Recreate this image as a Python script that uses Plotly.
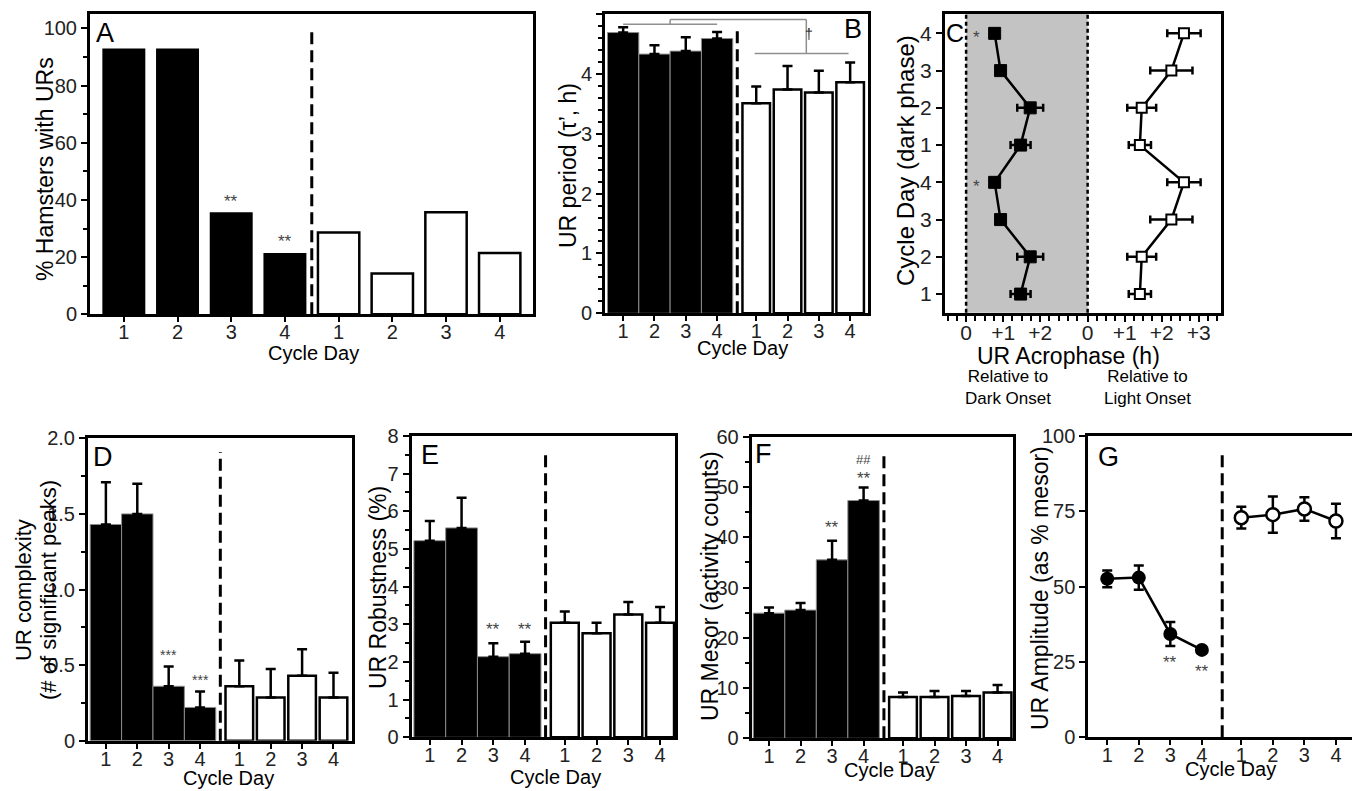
import plotly.graph_objects as go

# page is 1360x791; the browser body adds an 8px margin, so the figure is made
# slightly smaller and all page positions are converted to figure coordinates
PAGE_OFF = 8
FW, FH = 1352, 783
FONT = "Liberation Sans, Arial, sans-serif"

# ---------------- data ----------------
day_labels = ["1", "2", "3", "4"]

# A: % hamsters with URs
pct_dark = [92.9, 92.9, 35.7, 21.4]
pct_light = [28.6, 14.3, 35.7, 21.4]

# B: UR period (h)
period_dark = [4.69, 4.33, 4.38, 4.59]
period_dark_err = [0.09, 0.15, 0.23, 0.11]
period_light = [3.51, 3.74, 3.69, 3.86]
period_light_err = [0.28, 0.39, 0.36, 0.33]

# C: UR acrophase (h) relative to dark / light onset, cycle days 1-4 (double plotted)
acro_dark = [1.47, 1.73, 0.93, 0.77]
acro_dark_err = [0.27, 0.35, 0.10, 0.10]
acro_light = [1.41, 1.46, 2.26, 2.60]
acro_light_err = [0.30, 0.39, 0.57, 0.45]

# D: UR complexity
complexity_dark = [1.43, 1.50, 0.36, 0.22]
complexity_dark_err = [0.28, 0.20, 0.13, 0.105]
complexity_light = [0.36, 0.285, 0.43, 0.285]
complexity_light_err = [0.17, 0.19, 0.175, 0.165]

# E: UR robustness (%)
robust_dark = [5.22, 5.56, 2.14, 2.22]
robust_dark_err = [0.52, 0.80, 0.36, 0.32]
robust_light = [3.04, 2.76, 3.26, 3.04]
robust_light_err = [0.30, 0.28, 0.33, 0.42]

# F: UR mesor (activity counts)
mesor_dark = [24.9, 25.5, 35.5, 47.3]
mesor_dark_err = [1.1, 1.4, 3.8, 2.6]
mesor_light = [8.2, 8.2, 8.4, 9.1]
mesor_light_err = [0.9, 1.2, 1.0, 1.5]

# G: UR amplitude (% mesor)
amp_dark = [52.6, 53.0, 34.3, 29.0]
amp_dark_err = [2.8, 4.0, 4.0, 1.0]
amp_light = [72.9, 73.9, 75.8, 71.8]
amp_light_err = [3.6, 6.0, 3.9, 5.7]

# ---------------- helpers ----------------
def px(x):
    return (x - PAGE_OFF) / FW

def py(y):
    return 1 - (y - PAGE_OFF) / FH

def sfx(i):
    return "" if i == 1 else str(i)

def XR(i):
    return "x" + sfx(i)

def YR(i):
    return "y" + sfx(i)

GAP = 1.25  # offset of the light-phase group (panels B, D-G)
xd = [1, 2, 3, 4]
xl_gap = [4 + GAP + i for i in range(4)]
xl_A = [5, 6, 7, 8]
tick_text = day_labels + day_labels

panels = {
    # id: (left, right, top, bottom, xrange)   -- page pixels
    1: (90, 533, 14, 314.3, [0.37, 8.62]),
    2: (605, 868, 14, 313.3, [0.42, 8.82]),
    3: (945, 1221, 14, 312.7, [-0.57, 6.88]),
    4: (88, 351.7, 438.3, 740.7, [0.43, 8.83]),
    5: (411.7, 675, 436, 737.3, [0.43, 8.72]),
    6: (751.7, 1013, 436.7, 738.3, [0.45, 8.74]),
    7: (1088.3, 1353.3, 436, 737.3, [0.40, 8.80]),
}

fig = go.Figure()
layout = dict(
    width=FW, height=FH, margin=dict(l=0, r=0, t=0, b=0, autoexpand=False),
    plot_bgcolor="white", paper_bgcolor="white",
    showlegend=False, barmode="overlay",
    font=dict(family=FONT, color="black", size=18),
)

base_axis = dict(showline=True, linewidth=3, linecolor="black", mirror=True,
                 ticks="outside", tickwidth=2, ticklen=6, tickcolor="black",
                 showgrid=False, zeroline=False, fixedrange=True, automargin=False,
                 tickfont=dict(family=FONT, size=20, color="#222"))

axes = {}
for i, (l, r, t, b, xr) in panels.items():
    xa = dict(base_axis)
    xa.update(domain=[px(l), px(r)], anchor=YR(i), range=xr, ticklen=5, ticklabelstandoff=-7)
    ya = dict(base_axis)
    ya.update(domain=[py(b), py(t)], anchor=XR(i))
    axes[("x", i)] = xa
    axes[("y", i)] = ya

minor = lambda d: dict(ticks="outside", ticklen=4, tickwidth=2, tickcolor="black", dtick=d, tick0=0)

# x ticks
axes[("x", 1)].update(tickvals=xd + xl_A, ticktext=tick_text)
for i in (2, 4, 5, 6, 7):
    axes[("x", i)].update(tickvals=xd + xl_gap, ticktext=tick_text)
# y ticks
axes[("y", 1)].update(range=[0, 105], tickvals=[0, 20, 40, 60, 80, 100], minor=minor(10))
axes[("y", 2)].update(range=[0, 5], tickvals=[0, 1, 2, 3, 4, 5], minor=minor(0.2))
axes[("y", 4)].update(range=[0, 2], tickvals=[0, 0.5, 1, 1.5, 2],
                      ticktext=["0", "0.5", "1.0", "1.5", "2.0"], minor=minor(0.25))
axes[("y", 5)].update(range=[0, 8], tickvals=list(range(9)), minor=minor(0.5))
axes[("y", 6)].update(range=[0, 60], tickvals=[0, 10, 20, 30, 40, 50, 60], minor=minor(5))
axes[("y", 7)].update(range=[0, 100], tickvals=[0, 25, 50, 75, 100])

# panel C axes
C_OFF = 3.28
c_days = day_labels + day_labels
axes[("y", 3)].update(range=[0.5, 8.52], tickvals=list(range(1, 9)), ticktext=c_days,
                      tickfont=dict(family=FONT, size=21, color="#222"))
c_major = [0, 1, 2, C_OFF, C_OFF + 1, C_OFF + 2, C_OFF + 3]
c_minor = [v * 0.25 for v in range(-2, 13)] + [C_OFF + v * 0.25 for v in range(0, 15)]
axes[("x", 3)].update(tickvals=c_major, ticktext=["0", "+1", "+2", "0", "+1", "+2", "+3"],
                      tickfont=dict(family=FONT, size=21, color="#222"), ticklen=6,
                      minor=dict(ticks="outside", ticklen=5, tickwidth=2, tickcolor="black",
                                 tickmode="array", tickvals=c_minor))

for (k, i), v in axes.items():
    layout[f"{k}axis{sfx(i)}"] = v

# ---------------- traces ----------------
def err(arr):
    return dict(type="data", array=arr, arrayminus=[0] * len(arr), symmetric=False,
                color="black", thickness=2.5, width=5)

# A
fig.add_trace(go.Bar(x=xd, y=pct_dark, width=0.8, marker=dict(color="black", line=dict(width=0)),
                     xaxis=XR(1), yaxis=YR(1)))
fig.add_trace(go.Bar(x=xl_A, y=pct_light, width=0.77, marker=dict(color="white", line=dict(color="black", width=2.5)),
                     xaxis=XR(1), yaxis=YR(1)))

def bar_pair(i, dv, de, lv, le):
    fig.add_trace(go.Bar(x=xd, y=dv, width=1.0, error_y=err(de),
                         marker=dict(color="black", line=dict(color="#8c8c8c", width=1)),
                         xaxis=XR(i), yaxis=YR(i)))
    fig.add_trace(go.Bar(x=xl_gap, y=lv, width=0.88, error_y=err(le),
                         marker=dict(color="white", line=dict(color="black", width=2.5)),
                         xaxis=XR(i), yaxis=YR(i)))

bar_pair(2, period_dark, period_dark_err, period_light, period_light_err)
bar_pair(4, complexity_dark, complexity_dark_err, complexity_light, complexity_light_err)
bar_pair(5, robust_dark, robust_dark_err, robust_light, robust_light_err)
bar_pair(6, mesor_dark, mesor_dark_err, mesor_light, mesor_light_err)

# C
c_y = list(range(1, 9))
fig.add_trace(go.Scatter(
    x=acro_dark + acro_dark, y=c_y, mode="lines+markers",
    line=dict(color="black", width=2.5),
    marker=dict(symbol="square", size=12, color="black", line=dict(color="black", width=1)),
    error_x=dict(type="data", array=acro_dark_err + acro_dark_err, color="black", thickness=2.5, width=4),
    xaxis=XR(3), yaxis=YR(3)))
fig.add_trace(go.Scatter(
    x=[C_OFF + v for v in acro_light + acro_light], y=c_y, mode="lines+markers",
    line=dict(color="black", width=2.5),
    marker=dict(symbol="square", size=10, color="white", line=dict(color="black", width=2)),
    error_x=dict(type="data", array=acro_light_err + acro_light_err, color="black", thickness=2.5, width=4),
    xaxis=XR(3), yaxis=YR(3)))

# G
fig.add_trace(go.Scatter(
    x=xd, y=amp_dark, mode="lines+markers", line=dict(color="black", width=2.5),
    marker=dict(symbol="circle", size=14, color="black"),
    error_y=dict(type="data", array=amp_dark_err, color="black", thickness=2.5, width=5),
    xaxis=XR(7), yaxis=YR(7)))
fig.add_trace(go.Scatter(
    x=xl_gap, y=amp_light, mode="lines+markers", line=dict(color="black", width=2.5),
    marker=dict(symbol="circle", size=13, color="white", line=dict(color="black", width=2.5)),
    error_y=dict(type="data", array=amp_light_err, color="black", thickness=2.5, width=5),
    xaxis=XR(7), yaxis=YR(7)))

# ---------------- shapes ----------------
shapes = []
DASH = "12px,6px"
shapes.append(dict(type="line", xref=XR(1), yref=YR(1) + " domain", x0=4.5, x1=4.5, y0=0, y1=0.955,
                   line=dict(color="black", width=3, dash=DASH)))
for i in (2, 4, 5, 6, 7):
    xm = 4 + GAP / 2 + 0.02
    shapes.append(dict(type="line", xref=XR(i), yref=YR(i) + " domain", x0=xm, x1=xm, y0=0, y1=0.955,
                       line=dict(color="black", width=3, dash=DASH)))

# panel C shading and dotted onset lines
shapes.append(dict(type="rect", xref=XR(3), yref=YR(3) + " domain", x0=0, x1=C_OFF, y0=0, y1=1,
                   fillcolor="#c3c3c3", line=dict(width=0), layer="below"))
for xv in (0, C_OFF):
    shapes.append(dict(type="line", xref=XR(3), yref=YR(3) + " domain", x0=xv, x1=xv, y0=0, y1=1,
                       line=dict(color="black", width=2.5, dash="4px,3px")))

# panel B comparison brackets
GRAY = "#8f8f8f"
br = [
    (1, 4.83, 4, 4.83),
    (2.5, 4.83, 2.5, 4.91),
    (2.5, 4.91, 6.85, 4.91),
    (6.85, 4.91, 6.85, 4.34),
    (xl_gap[0] - 0.05, 4.34, xl_gap[3] - 0.05, 4.34),
]
for x0, y0, x1, y1 in br:
    shapes.append(dict(type="line", xref=XR(2), yref=YR(2), x0=x0, y0=y0, x1=x1, y1=y1,
                       line=dict(color=GRAY, width=1.5)))

layout["shapes"] = shapes

# ---------------- annotations ----------------
ann = []

def note(x, y, text, size, color="black", angle=0, xanchor="center", yanchor="middle"):
    ann.append(dict(x=px(x), y=py(y), xref="paper", yref="paper", text=text, showarrow=False,
                    textangle=angle, xanchor=xanchor, yanchor=yanchor,
                    font=dict(family=FONT, size=size, color=color)))

def dnote(i, x, y, text, size=17, color="#444"):
    ann.append(dict(x=x, y=y, xref=XR(i), yref=YR(i), text=text, showarrow=False,
                    font=dict(family=FONT, size=size, color=color)))

# panel letters
note(105, 33, "A", 27)
note(853, 29, "B", 27)
note(955, 33, "C", 25)
note(103, 457, "D", 27)
note(430, 455, "E", 27)
note(763, 454, "F", 27)
note(1108, 457, "G", 27)

# y titles
note(45, 169, "% Hamsters with URs", 23, angle=-90)
note(568, 166, "UR period (\u03c4\u2019, h)", 23, angle=-90)
note(905, 161, "Cycle Day (dark phase)", 24, angle=-90)
note(23, 590, "UR complexity", 22, angle=-90)
note(48, 590, "(# of significant peaks)", 22, angle=-90)
note(378, 588, "UR Robustness (%)", 23, angle=-90)
note(710, 586, "UR Mesor (activity counts)", 23, angle=-90)
note(1040, 588, "UR Amplitude (as % mesor)", 23, angle=-90)

# x titles
note(313, 353, "Cycle Day", 20)
note(742, 348, "Cycle Day", 20)
note(228, 778, "Cycle Day", 20)
note(555, 777, "Cycle Day", 20)
note(890, 770, "Cycle Day", 20)
note(1230, 769, "Cycle Day", 20)
note(1068, 356, "UR Acrophase (h)", 23)
note(1008, 388, "Relative to<br>Dark Onset", 17)
note(1147, 388, "Relative to<br>Light Onset", 17)

# significance marks
dnote(1, 3, 39.5, "**")
dnote(1, 4, 25.5, "**")
dnote(2, 6.95, 4.66, "\u2020", size=14, color="#222")
dnote(3, 0.29, 3.9, "*")
dnote(3, 0.29, 7.9, "*")
dnote(4, 3, 0.57, "***", size=14)
dnote(4, 4, 0.40, "***", size=14)
dnote(5, 3, 2.86, "**")
dnote(5, 4, 2.86, "**")
dnote(6, 3, 42.0, "**")
dnote(6, 4, 51.6, "**")
dnote(6, 4, 55.4, "##", size=13)
dnote(7, 3, 24.8, "**")
dnote(7, 4, 21.8, "**")

layout["annotations"] = ann
fig.update_layout(**layout)

fig.write_html("out.html")
